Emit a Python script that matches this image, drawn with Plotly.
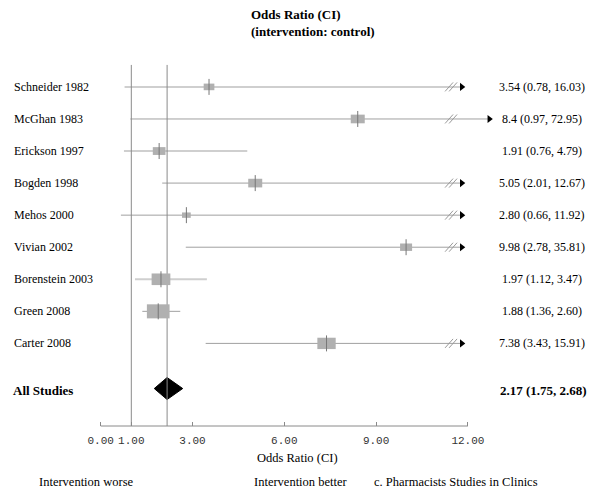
import plotly.graph_objects as go

# study data (odds ratio and 95% CI)
studies = ["Schneider 1982", "McGhan 1983", "Erickson 1997", "Bogden 1998", "Mehos 2000",
           "Vivian 2002", "Borenstein 2003", "Green 2008", "Carter 2008"]
odds = [3.54, 8.4, 1.91, 5.05, 2.80, 9.98, 1.97, 1.88, 7.38]
lower = [0.78, 0.97, 0.76, 2.01, 0.66, 2.78, 1.12, 1.36, 3.43]
upper = [16.03, 72.95, 4.79, 12.67, 11.92, 35.81, 3.47, 2.60, 15.91]
ci_labels = ["3.54 (0.78, 16.03)", "8.4 (0.97, 72.95)", "1.91 (0.76, 4.79)", "5.05 (2.01, 12.67)",
             "2.80 (0.66, 11.92)", "9.98 (2.78, 35.81)", "1.97 (1.12, 3.47)", "1.88 (1.36, 2.60)",
             "7.38 (3.43, 15.91)"]
# relative study weights (%)
weights = [8.1, 10.6, 9.6, 10.6, 6.6, 9.1, 14.2, 17.2, 13.9]

pooled_label = "All Studies"
pooled = 2.17
pooled_lo = 1.75
pooled_hi = 2.68
pooled_text = "2.17 (1.75, 2.68)"

tick_vals = [0, 1, 3, 6, 9, 12]
tick_text = ["0.00", "1.00", "3.00", "6.00", "9.00", "12.00"]

# ---- geometry (pixel values measured on the page; the page body adds an 8px margin)
OFF = 8
W, H = 600 - OFF, 492 - OFF
PLOT_BOTTOM = 426.5 - OFF          # x axis row
X0_PX, PX_PER_X = 100.7 - OFF, 30.6
ROW0_PX, PX_PER_ROW = 87 - OFF, 32.1
POOLED_ROW = (389 - 87) / PX_PER_ROW

x_range = [-X0_PX / PX_PER_X, (W - X0_PX) / PX_PER_X]
y_range = [(PLOT_BOTTOM - ROW0_PX) / PX_PER_ROW, -ROW0_PX / PX_PER_ROW]

SERIF = "Liberation Serif"
light_rows = {"Schneider 1982", "Erickson 1997", "Borenstein 2003"}
BREAK_X = 11.45


def px(p):
    return (p - OFF) / W


def py(p):
    return (PLOT_BOTTOM - (p - OFF)) / PLOT_BOTTOM


def dx(p):
    return p / PX_PER_X


def dy(p):
    return p / PX_PER_ROW


fig = go.Figure()
shapes = []
annotations = []

# reference lines (no effect, pooled estimate)
for xv in [1, pooled]:
    shapes.append(dict(type="line", xref="x", yref="y", x0=xv, x1=xv,
                       y0=dy(65 - 87), y1=y_range[0],
                       line=dict(color="#8a8a8a", width=1)))

# axis baseline from 0 to 12
shapes.append(dict(type="line", xref="x", yref="paper", x0=0, x1=12, y0=0, y1=0,
                   line=dict(color="#8a8a8a", width=1)))

for i, name in enumerate(studies):
    cap = 12.7 if upper[i] > 50 else 11.8
    truncated = upper[i] > BREAK_X
    hi = min(upper[i], cap)
    light = name in light_rows
    fig.add_trace(go.Scatter(
        x=[lower[i], hi], y=[i, i], mode="lines", hoverinfo="skip",
        line=dict(color="#cfcfcf" if light else "#a0a0a0", width=2 if light else 1)))
    if truncated:
        fig.add_trace(go.Scatter(
            x=[cap], y=[i], mode="markers", hoverinfo="skip",
            marker=dict(symbol="triangle-right", size=7, color="black")))
        for off in (-2, 2):
            bx = BREAK_X + dx(off)
            shapes.append(dict(type="line", xref="x", yref="y",
                               x0=bx - dx(4), x1=bx + dx(4), y0=i + dy(4.5), y1=i - dy(4.5),
                               line=dict(color="#9a9a9a", width=1)))
    bw = weights[i] * 1.32
    bh = bw * 0.62
    shapes.append(dict(type="rect", xref="x", yref="y",
                       x0=odds[i] - dx(bw / 2), x1=odds[i] + dx(bw / 2),
                       y0=i - dy(bh / 2), y1=i + dy(bh / 2),
                       fillcolor="#b0b0b0", line=dict(width=0)))
    shapes.append(dict(type="line", xref="x", yref="y", x0=odds[i], x1=odds[i],
                       y0=i - dy(8), y1=i + dy(8), line=dict(color="#777777", width=1)))
    annotations.append(dict(x=px(12), y=i, xref="paper", yref="y", text=name,
                            xanchor="left", yanchor="middle", showarrow=False,
                            font=dict(family=SERIF, size=12, color="black")))
    annotations.append(dict(x=px(542), y=i, xref="paper", yref="y", text=ci_labels[i],
                            xanchor="center", yanchor="middle", showarrow=False,
                            font=dict(family=SERIF, size=12, color="black")))

# pooled diamond
hh = dy(11)
fig.add_trace(go.Scatter(
    x=[pooled_lo, pooled, pooled_hi, pooled, pooled_lo],
    y=[POOLED_ROW, POOLED_ROW - hh, POOLED_ROW, POOLED_ROW + hh, POOLED_ROW],
    mode="lines", fill="toself", fillcolor="black", line=dict(color="black", width=1),
    hoverinfo="skip"))
annotations.append(dict(x=px(11), y=POOLED_ROW + dy(2), xref="paper", yref="y",
                        text="<b>%s</b>" % pooled_label,
                        xanchor="left", yanchor="middle", showarrow=False,
                        font=dict(family=SERIF, size=13, color="black")))
annotations.append(dict(x=px(543), y=POOLED_ROW + dy(2), xref="paper", yref="y",
                        text="<b>%s</b>" % pooled_text,
                        xanchor="center", yanchor="middle", showarrow=False,
                        font=dict(family=SERIF, size=13, color="black")))

# titles and footer texts
annotations.append(dict(x=px(249), y=py(5), xref="paper", yref="paper",
                        text="<b>Odds Ratio (CI)<br>(intervention: control)</b>",
                        xanchor="left", yanchor="top", align="left", showarrow=False,
                        font=dict(family=SERIF, size=13, color="black")))
annotations.append(dict(x=px(297), y=py(459), xref="paper", yref="paper", text="Odds Ratio (CI)",
                        xanchor="center", yanchor="middle", showarrow=False,
                        font=dict(family=SERIF, size=12.5, color="black")))
for txt, xp in [("Intervention worse", 37), ("Intervention better", 252),
                ("c. Pharmacists Studies in Clinics", 372)]:
    annotations.append(dict(x=px(xp), y=py(483), xref="paper", yref="paper", text=txt,
                            xanchor="left", yanchor="middle", showarrow=False,
                            font=dict(family=SERIF, size=12.5, color="black")))

fig.update_layout(
    width=W, height=H,
    margin=dict(l=0, r=0, t=0, b=H - PLOT_BOTTOM, pad=0),
    plot_bgcolor="white", paper_bgcolor="white",
    showlegend=False,
    shapes=shapes, annotations=annotations,
    xaxis=dict(range=x_range, showgrid=False, zeroline=False, showline=False,
               tickvals=tick_vals, ticktext=tick_text, ticks="inside", ticklen=4,
               tickcolor="#8a8a8a", ticklabelstandoff=6,
               tickfont=dict(family="Liberation Mono", size=11, color="#333333")),
    yaxis=dict(range=y_range, showgrid=False, zeroline=False, showline=False,
               showticklabels=False, ticks=""),
)

fig.write_html("out.html")
